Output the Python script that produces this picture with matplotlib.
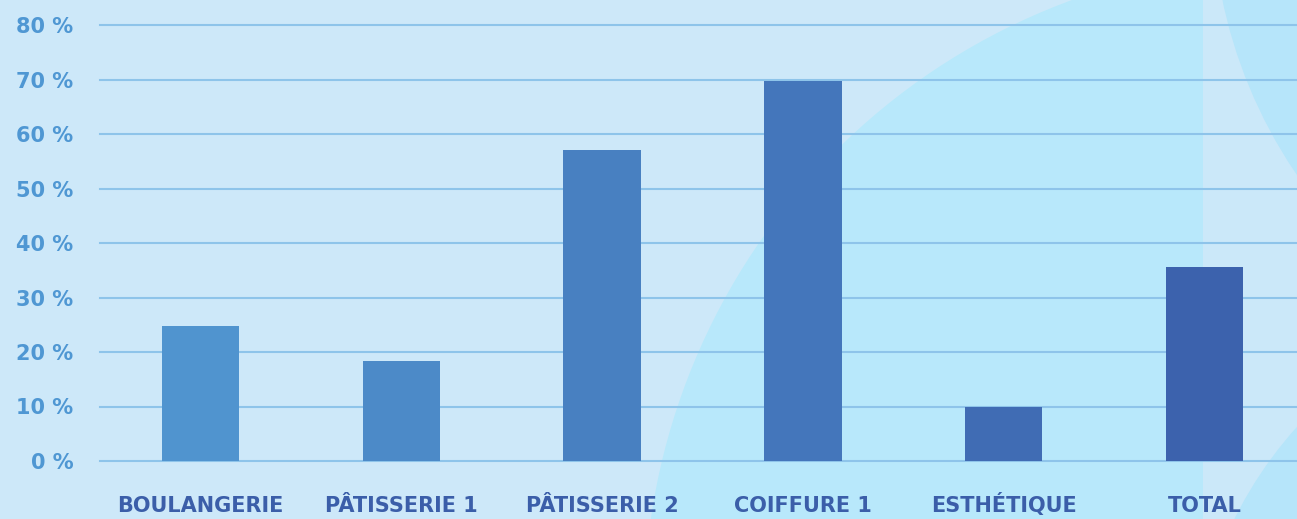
import numpy as np
import matplotlib
matplotlib.use('Agg')
import matplotlib.pyplot as plt
from matplotlib.patches import Circle, Rectangle

# ═══ Data ═══
categories = ['BOULANGERIE', 'PÂTISSERIE 1', 'PÂTISSERIE 2', 'COIFFURE 1', 'ESTHÉTIQUE', 'TOTAL']
values = [24.8, 18.3, 57.1, 69.8, 9.9, 35.6]
yticks = [0, 10, 20, 30, 40, 50, 60, 70, 80]

# ═══ Style ═══
BG = '#cde8f9'
CYAN = '#b8e8fb'
GRID = '#8ec4ea'
YLAB = '#4f97d3'
XLAB = '#3b5ea9'
BAR_LEFT = np.array([0x50, 0x94, 0xcf]) / 255
BAR_RIGHT = np.array([0x3c, 0x62, 0xad]) / 255

W, H = 1297, 519
fig = plt.figure(figsize=(W / 100, H / 100), dpi=100)
fig.patch.set_facecolor(BG)

# decorative background in pixel coordinates
bg = fig.add_axes([0, 0, 1, 1])
bg.set_xlim(0, W)
bg.set_ylim(H, 0)
bg.axis('off')
bg.add_patch(Circle((1297, 613), 653, color=CYAN, lw=0))
bg.add_patch(Rectangle((1203, 0), 100, H, color='#cbe8f9', lw=0))
bg.add_patch(Circle((1700, -100), 488, color='#b6e5fa', lw=0))
bg.add_patch(Circle((1600, 700), 408, color='#b6e5fa', lw=0))

# ═══ Chart ═══
left, right = 100, W
y0, ymax = 461, 81
px_per = 5.45
top = y0 - ymax * px_per
ax = fig.add_axes([left / W, (H - y0) / H, (right - left) / W, (y0 - top) / H])
ax.patch.set_alpha(0)

x = np.arange(len(categories))
n = len(categories)
colors = [BAR_LEFT + (BAR_RIGHT - BAR_LEFT) * i / (n - 1) for i in range(n)]
ax.bar(x, values, width=0.385, color=colors, zorder=3)

for t in yticks:
    ax.axhline(t, color=GRID, lw=1.5, zorder=1, clip_on=False)

ax.set_xlim(-0.5, 5.46)
ax.set_ylim(0, ymax)
ax.set_yticks(yticks)
ax.set_yticklabels([f'{t} %' for t in yticks], color=YLAB, fontsize=15,
                   fontweight='bold', family='DejaVu Sans')
ax.set_xticks(x)
ax.set_xticklabels(categories, color=XLAB, fontsize=15, fontweight='bold',
                   family='DejaVu Sans')
for lbl in ax.get_xticklabels():
    lbl.set_va('baseline')  # keep all labels on one baseline (accents)
ax.tick_params(axis='y', length=0, pad=19)
ax.tick_params(axis='x', length=0, pad=36.5)
for s in ax.spines.values():
    s.set_visible(False)

plt.savefig('out.png', dpi=100, facecolor=fig.get_facecolor())
plt.close()
